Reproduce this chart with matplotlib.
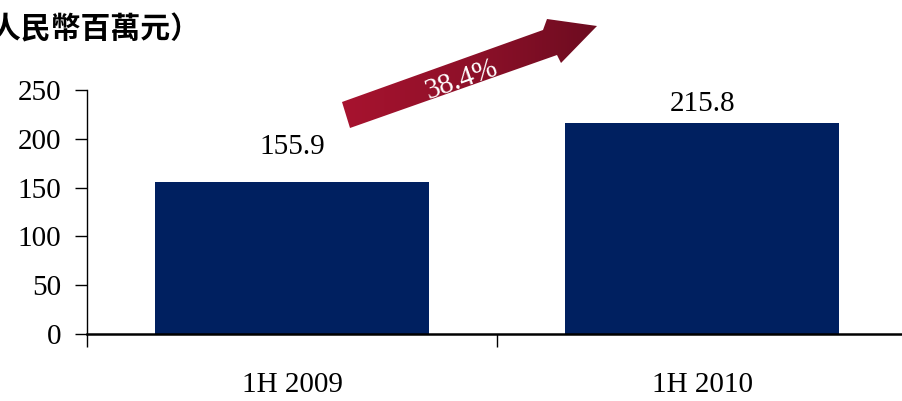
import matplotlib
matplotlib.use("Agg")
import matplotlib.pyplot as plt
import numpy as np
from matplotlib.patches import Polygon
from matplotlib.colors import LinearSegmentedColormap

categories = ["1H 2009", "1H 2010"]
values = [155.9, 215.8]
value_labels = ["155.9", "215.8"]
yticks = [0, 50, 100, 150, 200, 250]
growth_label = "38.4%"
unit_label = "（人民幣百萬元）"

W, H = 903, 401
fig = plt.figure(figsize=(W / 100, H / 100), dpi=100)
num_font = ["Liberation Serif", "DejaVu Serif"]
FS = 21

ax = fig.add_axes([87 / W, 67 / H, 816 / W, 244 / H])
x = np.arange(len(categories))
ax.bar(x, values, width=0.67, color="#002060", zorder=2)
ax.set_xlim(-0.5, 1.49)
ax.set_ylim(0, 250)
ax.set_yticks(yticks)
ax.set_yticklabels([str(v) for v in yticks], fontfamily=num_font, fontsize=FS)
ax.tick_params(axis="y", direction="out", length=8.5, width=1.0, pad=10)
ax.set_xticks([-0.5, 0.5])
ax.set_xticklabels([])
ax.set_xticks(x, minor=True)
ax.set_xticklabels(categories, minor=True, fontfamily=num_font, fontsize=FS)
ax.tick_params(axis="x", which="major", direction="out", length=9, width=1.0)
ax.tick_params(axis="x", which="minor", length=0, pad=27)
for s in ["top", "right"]:
    ax.spines[s].set_visible(False)
ax.spines["left"].set_linewidth(1.0)
ax.spines["bottom"].set_linewidth(1.8)

offsets = [25, 14]
for xi, v, lab, off in zip(x, values, value_labels, offsets):
    ax.annotate(lab, (xi, v), xytext=(0, off), textcoords="offset points",
                ha="center", va="center", fontfamily=num_font, fontsize=FS)

# overlay axes in pixel coordinates for arrow & title
ov = fig.add_axes([0, 0, 1, 1], facecolor="none")
ov.set_xlim(0, W)
ov.set_ylim(H, 0)
ov.axis("off")

arrow_pts = [(342, 102), (543, 30), (547, 19), (597, 26), (561, 63), (557, 55), (350, 128)]
poly = Polygon(arrow_pts, closed=True, facecolor="none", edgecolor="none")
ov.add_patch(poly)
grad = np.linspace(0, 1, 256).reshape(1, -1)
cmap = LinearSegmentedColormap.from_list("arr", ["#A8132F", "#8E1029", "#6C0C20"])
im = ov.imshow(grad, cmap=cmap, extent=[340, 600, 130, 15], aspect="auto", zorder=3)
im.set_clip_path(poly)

ov.text(462, 80, growth_label, color="white", fontsize=FS, fontfamily=num_font,
        rotation=19.5, ha="center", va="center", rotation_mode="anchor", zorder=4)

ov.text(-39, 29, unit_label, fontsize=21.5, fontweight="bold",
        fontfamily=["Noto Sans CJK TC", "DejaVu Sans"], ha="left", va="center")

fig.savefig("out.png", dpi=100)
